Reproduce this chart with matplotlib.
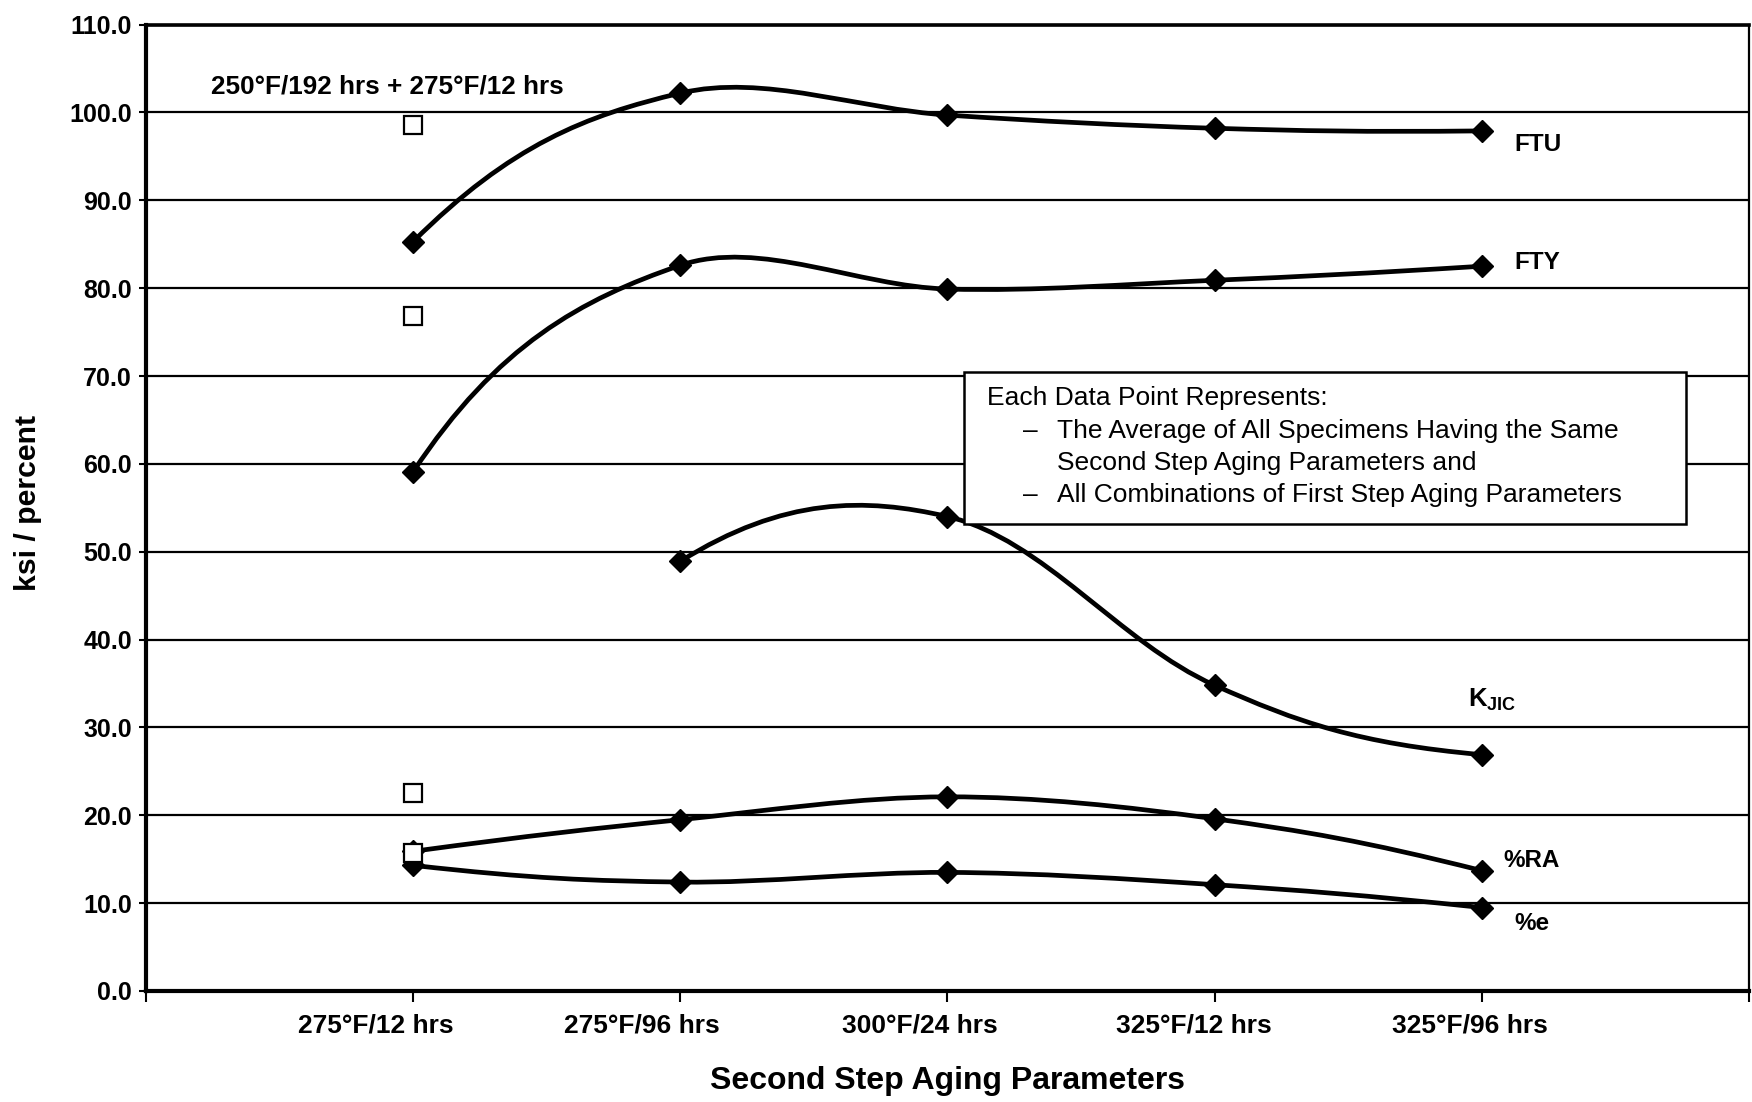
import numpy as np
import matplotlib
matplotlib.use("Agg")
import matplotlib.pyplot as plt
import matplotlib.transforms as mtransforms
from matplotlib.path import Path
from matplotlib.patches import PathPatch, Rectangle

# ---------------- data ----------------
categories = ['275°F/12 hrs', '275°F/96 hrs', '300°F/24 hrs', '325°F/12 hrs', '325°F/96 hrs']
cat_pos = [1, 2, 3, 4, 5]
ftu = [85.3, 102.2, 99.7, 98.2, 97.9]
fty = [59.1, 82.6, 79.9, 80.9, 82.5]
kjic_pos = [2, 3, 4, 5]
kjic = [48.9, 54.0, 34.8, 26.9]
ra = [15.9, 19.5, 22.1, 19.6, 13.7]
elong = [14.3, 12.4, 13.5, 12.1, 9.5]
ref_label = '250°F/192 hrs + 275°F/12 hrs'
ref_pos = [1, 1, 1, 1]
ref_values = [98.6, 76.8, 22.5, 15.7]
y_ticks = list(range(0, 111, 10))
series_names = ['FTU', 'FTY', r'K$_{\mathrm{JIC}}$', '%RA', '%e']
note_lines = ['Each Data Point Represents:',
              'The Average of All Specimens Having the Same',
              'Second Step Aging Parameters and',
              'All Combinations of First Step Aging Parameters']

plt.rcParams['font.family'] = ['Liberation Sans', 'DejaVu Sans']
plt.rcParams['mathtext.fontset'] = 'custom'
plt.rcParams['mathtext.rm'] = 'Liberation Sans:bold'
plt.rcParams['mathtext.bf'] = 'Liberation Sans:bold'

W, H = 1752, 1102
fig = plt.figure(figsize=(W / 100, H / 100), dpi=100)
L, R, T, B = 146, 1749, 24.6, 991
ax = fig.add_axes([L / W, 1 - B / H, (R - L) / W, (B - T) / H])
ax.set_xlim(0, 6)
ax.set_ylim(0, 110)

ax.set_yticks(y_ticks)
ax.set_yticklabels([f'{v:.1f}' for v in y_ticks], fontsize=18, fontweight='bold')
ax.set_xticks([0] + cat_pos + [6])
ax.set_xticklabels([''] + categories + [''], fontsize=19, fontweight='bold')
ax.tick_params(axis='x', direction='out', length=8, width=1.5, pad=8)
ax.tick_params(axis='y', direction='out', length=5, width=1.5, pad=5)
# the scanned chart places its category labels slightly left of the ticks
label_shift_px = [0, -37, -38, -28, -21, -12, 0]
for lab, dx in zip(ax.get_xticklabels(), label_shift_px):
    lab.set_transform(lab.get_transform() +
                      mtransforms.ScaledTranslation(dx / 100, 0, fig.dpi_scale_trans))
ax.yaxis.grid(True, color='black', lw=1.6)
ax.set_axisbelow(True)
for side, lw in [('left', 3.0), ('bottom', 3.0), ('top', 2.6), ('right', 1.6)]:
    ax.spines[side].set_linewidth(lw)
    ax.spines[side].set_color('black')


def smooth_path(xs, ys, s=1 / 3, e=0.45):
    P = ax.transData.transform(np.column_stack([xs, ys]))
    n = len(P)
    d = np.linalg.norm(np.diff(P, axis=0), axis=1)
    verts = [P[0]]
    codes = [Path.MOVETO]
    for i in range(n - 1):
        a, b = P[i], P[i + 1]
        u = (b - a) / d[i]
        if i == 0:
            tn = P[2] - P[0]
            tn = tn / np.linalg.norm(tn)
            r = 2 * np.dot(tn, u) * u - tn
            c1 = a + r * e * d[0]
        else:
            c1 = a + (P[i + 1] - P[i - 1]) * d[i] / (d[i - 1] + d[i]) * s
        if i == n - 2:
            tn = P[n - 1] - P[n - 3]
            tn = tn / np.linalg.norm(tn)
            r = 2 * np.dot(tn, u) * u - tn
            c2 = b - r * e * d[i]
        else:
            c2 = b - (P[i + 2] - P[i]) * d[i] / (d[i] + d[i + 1]) * s
        verts += [c1, c2, b]
        codes += [Path.CURVE4] * 3
    verts = ax.transData.inverted().transform(np.array(verts))
    return Path(verts, codes)


for xs, ys in [(cat_pos, ftu), (cat_pos, fty), (kjic_pos, kjic), (cat_pos, ra), (cat_pos, elong)]:
    ax.add_patch(PathPatch(smooth_path(xs, ys), facecolor='none', edgecolor='black',
                           lw=3.4, zorder=3, capstyle='round', joinstyle='round'))
    ax.plot(xs, ys, linestyle='none', marker='D', ms=11, color='black', zorder=4)

ax.plot(ref_pos, ref_values, linestyle='none', marker='s', ms=13, mfc='white',
        mec='black', mew=1.6, zorder=5)

ax.text(0.902, 103.0, ref_label, fontsize=18.8, fontweight='bold', ha='center', va='center')

label_xy = [(5.12, 96.4), (5.12, 82.9), (4.95, 33.1), (5.08, 14.9), (5.12, 7.7)]
label_size = [17.5, 17.5, 18.5, 17.5, 17.5]
for name, (lx, ly), fs in zip(series_names, label_xy, label_size):
    ax.text(lx, ly, name, fontsize=fs, fontweight='bold', ha='left', va='center')

# note box
ax.add_patch(Rectangle((0.510, 0.4832), 0.4504, 0.1573, transform=ax.transAxes,
                       facecolor='white', edgecolor='black', lw=1.8, zorder=6))
ax.text(0.5244, 0.6138, note_lines[0], transform=ax.transAxes, fontsize=19,
        ha='left', va='center', zorder=7)
for txt, fy in zip(note_lines[1:], [0.5792, 0.5468, 0.5132]):
    ax.text(0.5683, fy, txt, transform=ax.transAxes, fontsize=19,
            ha='left', va='center', zorder=7)
for fy in [0.5792, 0.5132]:
    ax.text(0.5474, fy, '–', transform=ax.transAxes, fontsize=19,
            ha='left', va='center', zorder=7)

fig.text(28 / W, 1 - 503 / H, 'ksi / percent', rotation=90, fontsize=21.8,
         fontweight='bold', ha='center', va='center')
fig.text(947 / W, 1 - 1081 / H, 'Second Step Aging Parameters', fontsize=23,
         fontweight='bold', ha='center', va='center')

fig.savefig('out.png', dpi=100)
